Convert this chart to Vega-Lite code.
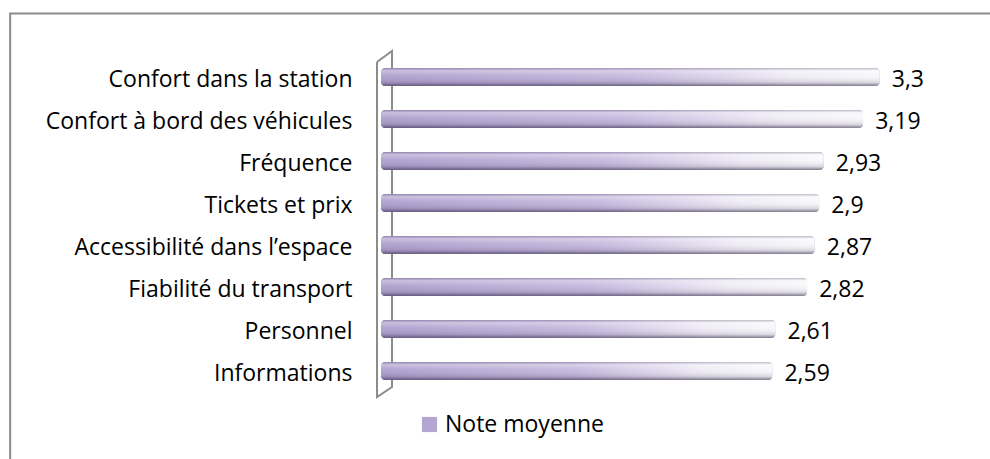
{
  "$schema": "https://vega.github.io/schema/vega-lite/v6.json",
  "autosize": {"type": "none"},
  "padding": {"left": 381, "top": 56, "right": 80, "bottom": 67},
  "width": 529,
  "height": 336,
  "background": "white",
  "config": {
    "view": {"stroke": null},
    "font": "Open Sans",
    "locale": {"number": {"decimal": ",", "thousands": "\u00a0", "grouping": [3], "currency": ["", " €"]}}
  },
  "datasets": {
    "notes": [
      {"critere": "Confort dans la station\u00a0", "note": 3.3},
      {"critere": "Confort à bord des véhicules", "note": 3.19},
      {"critere": "Fréquence", "note": 2.93},
      {"critere": "Tickets et prix\u00a0", "note": 2.9},
      {"critere": "Accessibilité dans l’espace\u00a0", "note": 2.87},
      {"critere": "Fiabilité du transport", "note": 2.82},
      {"critere": "Personnel", "note": 2.61},
      {"critere": "Informations", "note": 2.59}
    ],
    "decor": [
      {"part": "cadre", "o": 1, "x": -2.4537, "v": -0.25},
      {"part": "cadre", "o": 2, "x": -2.4537, "v": 1.1265},
      {"part": "cadre", "o": 3, "x": 4.1, "v": 1.1265},
      {"part": "paroi", "o": 1, "x": -0.0265, "v": 0.982},
      {"part": "paroi", "o": 2, "x": 0.0728, "v": 1.015},
      {"part": "paroi", "o": 3, "x": 0.0728, "v": 0.015},
      {"part": "paroi", "o": 4, "x": -0.0265, "v": -0.015},
      {"part": "paroi", "o": 5, "x": -0.0265, "v": 0.982}
    ]
  },
  "resolve": {"scale": {"y": "independent"}},
  "layer": [
    {
      "data": {"name": "decor"},
      "mark": {"type": "line", "stroke": "#8c8c8c", "strokeWidth": 2, "clip": false},
      "encoding": {
        "x": {"field": "x", "type": "quantitative", "scale": {"domain": [0, 3.5], "nice": false, "zero": false}, "axis": null},
        "y": {"field": "v", "type": "quantitative", "scale": {"domain": [0, 1], "nice": false, "zero": false}, "axis": null},
        "detail": {"field": "part"},
        "order": {"field": "o"}
      }
    },
    {
      "data": {"name": "notes"},
      "encoding": {
        "x": {"field": "note", "type": "quantitative", "scale": {"domain": [0, 3.5], "nice": false, "zero": false}, "axis": null},
        "y": {
          "field": "critere", "type": "nominal", "sort": null, "title": null,
          "scale": {"paddingInner": 0, "paddingOuter": 0},
          "axis": {"domain": false, "ticks": false, "labelPadding": 29, "labelFontSize": 23, "labelFont": "Open Sans", "labelColor": "#000000", "labelOffset": 3, "labelLimit": 400}
        }
      },
      "layer": [
        {
          "mark": {"type": "bar", "size": 18, "cornerRadius": 4},
          "encoding": {
            "color": {
              "datum": "Note moyenne", "type": "nominal",
              "scale": {"range": ["#b4a6d2"]},
              "legend": {"orient": "none", "legendX": 37, "legendY": 357, "title": null, "symbolType": "square", "symbolSize": 230, "symbolStrokeWidth": 0, "labelFont": "Open Sans", "labelFontSize": 23, "labelColor": "#000000", "labelOffset": 4}
            }
          }
        },
        {
          "mark": {
            "type": "bar", "size": 18, "cornerRadius": 4,
            "fill": {"gradient": "linear", "x1": 0, "y1": 0, "x2": 1, "y2": 0,
              "stops": [
                {"offset": 0, "color": "#ad9dcc"},
                {"offset": 0.5, "color": "#c4b7dd"},
                {"offset": 0.82, "color": "#eeebf5"},
                {"offset": 1, "color": "#f8f7fa"}
              ]}
          }
        },
        {
          "mark": {
            "type": "bar", "size": 18, "cornerRadius": 4,
            "fill": {"gradient": "linear", "x1": 0, "y1": 0, "x2": 0, "y2": 1,
              "stops": [
                {"offset": 0, "color": "rgba(90,80,110,0.35)"},
                {"offset": 0.15, "color": "rgba(255,255,255,0.35)"},
                {"offset": 0.45, "color": "rgba(255,255,255,0.05)"},
                {"offset": 0.8, "color": "rgba(60,50,80,0.15)"},
                {"offset": 1, "color": "rgba(50,40,70,0.6)"}
              ]}
          }
        },
        {
          "mark": {"type": "text", "align": "left", "baseline": "middle", "dx": 12, "dy": 3, "fontSize": 23, "font": "Open Sans", "color": "#000000"},
          "encoding": {
            "text": {"field": "note", "type": "quantitative", "format": "~g"}
          }
        }
      ]
    }
  ]
}
